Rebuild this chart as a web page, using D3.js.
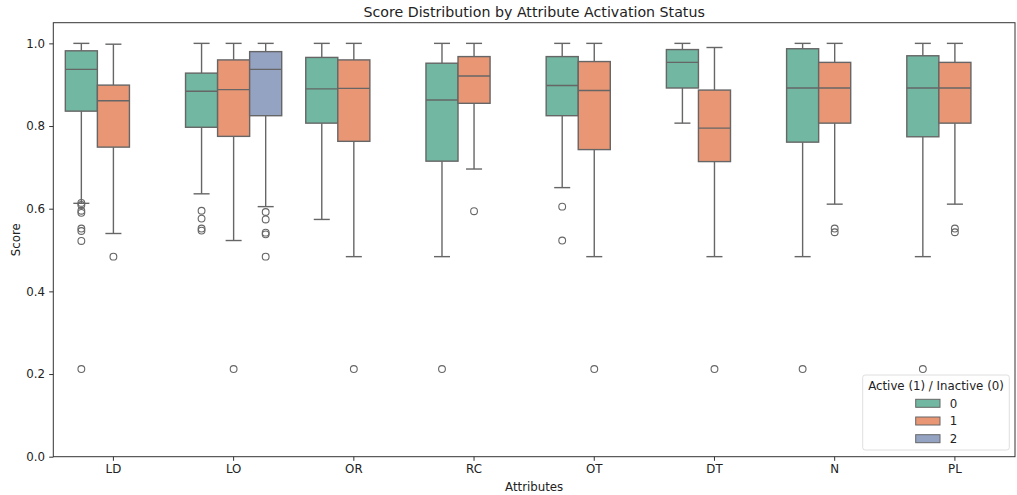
<!DOCTYPE html>
<html>
<head>
<meta charset="utf-8">
<script src="https://cdn.jsdelivr.net/npm/d3@7"></script>
<style>
body { margin: 0; background: #fff; }
text { font-family: "DejaVu Sans", sans-serif; fill: #222; }
</style>
</head>
<body>
<div id="chart"></div>
<script>
var width = 1017, height = 495;

var categories = ["LD", "LO", "OR", "RC", "OT", "DT", "N", "PL"];
var hue_levels = ["0", "1", "2"];
var hue_colors = ["#71b7a1", "#e99675", "#95a3c3"];
var y_ticks = [0.0, 0.2, 0.4, 0.6, 0.8, 1.0];

// [whisker low, q1, median, q3, whisker high] per category
var hue0_stats = [
	[0.613, 0.836, 0.937, 0.982, 1.000],
	[0.636, 0.797, 0.884, 0.928, 1.000],
	[0.574, 0.807, 0.890, 0.966, 1.000],
	[0.484, 0.715, 0.863, 0.952, 1.000],
	[0.651, 0.825, 0.898, 0.968, 1.000],
	[0.807, 0.892, 0.954, 0.985, 1.000],
	[0.484, 0.761, 0.892, 0.987, 1.000],
	[0.484, 0.774, 0.892, 0.970, 1.000]
];
var hue0_outliers = [
	[0.614, 0.609, 0.595, 0.590, 0.552, 0.546, 0.522, 0.212],
	[0.595, 0.576, 0.552, 0.547],
	[],
	[0.212],
	[0.605, 0.523],
	[],
	[0.212],
	[0.212]
];
var hue1_stats = [
	[0.540, 0.749, 0.861, 0.899, 0.998],
	[0.523, 0.775, 0.888, 0.960, 1.000],
	[0.484, 0.763, 0.891, 0.960, 1.000],
	[0.696, 0.855, 0.921, 0.968, 1.000],
	[0.484, 0.743, 0.886, 0.956, 1.000],
	[0.484, 0.714, 0.795, 0.887, 0.990],
	[0.611, 0.807, 0.892, 0.954, 1.000],
	[0.611, 0.807, 0.892, 0.954, 1.000]
];
var hue1_outliers = [
	[0.484],
	[0.212],
	[0.212],
	[0.594],
	[0.212],
	[0.212],
	[0.552, 0.543],
	[0.552, 0.543]
];
var hue2_stats = [null, [0.605, 0.825, 0.937, 0.980, 1.000], null, null, null, null, null, null];
var hue2_outliers = [[], [0.592, 0.574, 0.542, 0.538, 0.484], [], [], [], [], [], []];

var all_stats = [hue0_stats, hue1_stats, hue2_stats];
var all_outliers = [hue0_outliers, hue1_outliers, hue2_outliers];

var margin = {top: 22.7, right: 2, bottom: 38.3, left: 53.3};
var plot_w = width - margin.left - margin.right;
var plot_h = height - margin.top - margin.bottom;
var line_color = "#666666";
var font_px = "11.8px";

var svg = d3.select("#chart").append("svg")
	.attr("width", width)
	.attr("height", height);

var g = svg.append("g")
	.attr("transform", "translate(" + margin.left + "," + margin.top + ")");

var x = d3.scaleBand().domain(categories).range([0, plot_w]).padding(0);
var x_hue = d3.scaleBand().domain(hue_levels).range([0, x.bandwidth() * 0.8]).padding(0);
var y = d3.scaleLinear().domain([0, 1.05]).range([plot_h, 0]);

// boxes
var boxes = [];
for (var h = 0; h < hue_levels.length; h++) {
	for (var c = 0; c < categories.length; c++) {
		var s = all_stats[h][c];
		if (!s) continue;
		boxes.push({cat: categories[c], hue: h, s: s, out: all_outliers[h][c]});
	}
}

function box_x(d) {
	return x(d.cat) + x.bandwidth() * 0.1 + x_hue(hue_levels[d.hue]);
}
var bw = x_hue.bandwidth();

var bg = g.selectAll(".box").data(boxes).enter().append("g").attr("class", "box");

// whiskers
bg.append("line")
	.attr("x1", function(d){ return box_x(d) + bw/2; })
	.attr("x2", function(d){ return box_x(d) + bw/2; })
	.attr("y1", function(d){ return y(d.s[0]); })
	.attr("y2", function(d){ return y(d.s[1]); })
	.attr("stroke", line_color).attr("stroke-width", 1.4);
bg.append("line")
	.attr("x1", function(d){ return box_x(d) + bw/2; })
	.attr("x2", function(d){ return box_x(d) + bw/2; })
	.attr("y1", function(d){ return y(d.s[3]); })
	.attr("y2", function(d){ return y(d.s[4]); })
	.attr("stroke", line_color).attr("stroke-width", 1.4);
// caps
[0, 4].forEach(function(k){
	bg.append("line")
		.attr("x1", function(d){ return box_x(d) + bw/4; })
		.attr("x2", function(d){ return box_x(d) + bw*3/4; })
		.attr("y1", function(d){ return y(d.s[k]); })
		.attr("y2", function(d){ return y(d.s[k]); })
		.attr("stroke", line_color).attr("stroke-width", 1.4);
});
// box body
bg.append("rect")
	.attr("x", function(d){ return box_x(d); })
	.attr("width", bw)
	.attr("y", function(d){ return y(d.s[3]); })
	.attr("height", function(d){ return y(d.s[1]) - y(d.s[3]); })
	.attr("fill", function(d){ return hue_colors[d.hue]; })
	.attr("stroke", line_color).attr("stroke-width", 1.4);
// median
bg.append("line")
	.attr("x1", function(d){ return box_x(d); })
	.attr("x2", function(d){ return box_x(d) + bw; })
	.attr("y1", function(d){ return y(d.s[2]); })
	.attr("y2", function(d){ return y(d.s[2]); })
	.attr("stroke", line_color).attr("stroke-width", 1.4);
// fliers
bg.selectAll("circle")
	.data(function(d){ return d.out.map(function(v){ return {v: v, b: d}; }); })
	.enter().append("circle")
	.attr("cx", function(d){ return box_x(d.b) + bw/2; })
	.attr("cy", function(d){ return y(d.v); })
	.attr("r", 3.4)
	.attr("fill", "none")
	.attr("stroke", line_color).attr("stroke-width", 1.1);

// axes
var y_axis = g.append("g")
	.call(d3.axisLeft(y).tickValues(y_ticks).tickFormat(d3.format(".1f")).tickSize(4.1).tickPadding(4.1));
var x_axis = g.append("g")
	.attr("transform", "translate(0," + plot_h + ")")
	.call(d3.axisBottom(x).tickSize(4.1).tickPadding(4.1));
[y_axis, x_axis].forEach(function(a){
	a.select(".domain").remove();
	a.selectAll("line").attr("stroke", "#333");
	a.selectAll("text").style("font-family", "DejaVu Sans").style("font-size", font_px).attr("fill", "#222");
});

// frame
g.append("rect")
	.attr("x", 0).attr("y", 0)
	.attr("width", plot_w).attr("height", plot_h)
	.attr("fill", "none").attr("stroke", "#333").attr("stroke-width", 1);

// title & labels
svg.append("text")
	.attr("x", margin.left + plot_w/2).attr("y", 16.5)
	.attr("text-anchor", "middle")
	.style("font-size", "14.2px")
	.text("Score Distribution by Attribute Activation Status");
svg.append("text")
	.attr("x", margin.left + plot_w/2).attr("y", 491)
	.attr("text-anchor", "middle")
	.style("font-size", font_px)
	.text("Attributes");
svg.append("text")
	.attr("transform", "translate(20," + (margin.top + plot_h/2) + ") rotate(-90)")
	.attr("text-anchor", "middle")
	.style("font-size", font_px)
	.text("Score");

// legend
var lg = svg.append("g").attr("transform", "translate(862.7,375)");
lg.append("rect")
	.attr("width", 146.6).attr("height", 75)
	.attr("rx", 2.5)
	.attr("fill", "#fff").attr("fill-opacity", 0.8)
	.attr("stroke", "#d6d6d6").attr("stroke-width", 0.8);
lg.append("text")
	.attr("x", 73.3).attr("y", 15)
	.attr("text-anchor", "middle")
	.style("font-size", font_px)
	.text("Active (1) / Inactive (0)");
hue_levels.forEach(function(lvl, i){
	lg.append("rect")
		.attr("x", 53).attr("y", 24.3 + i*17.7)
		.attr("width", 24.3).attr("height", 8)
		.attr("fill", hue_colors[i])
		.attr("stroke", line_color).attr("stroke-width", 1);
	lg.append("text")
		.attr("x", 87).attr("y", 32.5 + i*17.7)
		.style("font-size", font_px)
		.text(lvl);
});
</script>
</body>
</html>
